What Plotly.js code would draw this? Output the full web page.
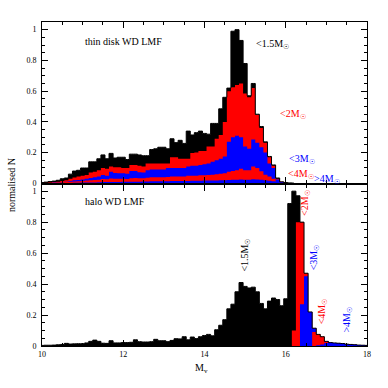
<!DOCTYPE html>
<html>
<head>
<meta charset="utf-8">
<script src="https://cdn.plot.ly/plotly-3.0.1.min.js"></script>
<style>
  html,body{margin:0;padding:0;background:#fff;}
  #chart{width:388px;height:388px;}
</style>
</head>
<body>
<div id="chart"></div>
<script>
// bin centres step by 0.1 mag; each series lists its values from its first bin
const binWidth = 0.1;

// thin disk, first bin at Mv = 10.0
const diskStart = 10.0;
const diskTotal = [
  0.005,0.008,0.012,0.015,0.02,0.03,0.035,0.06,0.08,0.085,
  0.1,0.1,0.14,0.14,0.16,0.185,0.16,0.195,0.165,0.17,
  0.17,0.155,0.19,0.19,0.185,0.18,0.18,0.22,0.225,0.235,
  0.235,0.225,0.29,0.265,0.28,0.26,0.34,0.315,0.33,0.34,
  0.325,0.32,0.39,0.39,0.485,0.56,0.62,0.99,1.0,0.93,
  0.78,0.57,0.65,0.45,0.37,0.27,0.175,0.12,0.035,0.01,
  0.005,0.003,0.002];
const diskLt2 = [
  0.002,0.004,0.006,0.008,0.01,0.015,0.02,0.03,0.038,0.045,
  0.05,0.055,0.07,0.075,0.085,0.1,0.095,0.11,0.105,0.105,
  0.1,0.1,0.12,0.12,0.115,0.11,0.13,0.13,0.13,0.13,
  0.13,0.13,0.17,0.17,0.16,0.16,0.16,0.197,0.2,0.21,
  0.21,0.24,0.24,0.29,0.315,0.40,0.60,0.625,0.64,0.65,
  0.585,0.56,0.62,0.445,0.36,0.265,0.17,0.115,0.03,0.01,
  0.004,0.002,0.001];
const diskLt3 = [
  0.001,0.002,0.003,0.005,0.006,0.008,0.01,0.015,0.02,0.022,
  0.025,0.03,0.035,0.04,0.045,0.055,0.05,0.075,0.068,0.065,
  0.065,0.063,0.08,0.08,0.072,0.07,0.085,0.09,0.09,0.09,
  0.09,0.1,0.1,0.1,0.1,0.1,0.11,0.115,0.115,0.12,
  0.125,0.13,0.14,0.15,0.16,0.175,0.27,0.3,0.31,0.3,
  0.24,0.225,0.285,0.265,0.235,0.2,0.13,0.1,0.025,0.008,
  0.002,0.001,0];
const diskLt4 = [
  0.001,0.002,0.003,0.004,0.005,0.007,0.008,0.01,0.012,0.014,
  0.016,0.018,0.02,0.022,0.024,0.028,0.026,0.032,0.03,0.03,
  0.03,0.028,0.034,0.035,0.033,0.033,0.036,0.04,0.04,0.04,
  0.04,0.042,0.045,0.044,0.045,0.044,0.05,0.05,0.05,0.052,
  0.052,0.054,0.056,0.06,0.062,0.065,0.075,0.08,0.085,0.095,
  0.085,0.085,0.11,0.1,0.078,0.056,0.045,0.03,0.008,0.004,
  0.001,0,0];
const diskGt4 = [
  0.0005,0.001,0.001,0.0015,0.002,0.002,0.003,0.003,0.004,0.004,
  0.005,0.005,0.006,0.006,0.007,0.008,0.008,0.009,0.009,0.009,
  0.01,0.01,0.011,0.011,0.011,0.012,0.012,0.013,0.013,0.013,
  0.014,0.014,0.015,0.015,0.015,0.016,0.016,0.017,0.017,0.017,
  0.018,0.018,0.019,0.019,0.02,0.02,0.022,0.023,0.024,0.025,
  0.024,0.024,0.026,0.025,0.023,0.02,0.017,0.014,0.008,0.006,
  0.002,0.001,0];

// halo
const haloStart = 10.0;
const haloTotal = [
  0.004,0.005,0.005,0.006,0.008,0.01,0.017,0.013,0.014,0.015,
  0.015,0.02,0.03,0.038,0.03,0.018,0.017,0.034,0.02,0.02,
  0.022,0.022,0.024,0.04,0.028,0.026,0.026,0.028,0.043,0.034,
  0.034,0.028,0.036,0.047,0.046,0.06,0.04,0.058,0.048,0.06,
  0.068,0.075,0.066,0.105,0.134,0.17,0.24,0.27,0.35,0.41,
  0.385,0.375,0.38,0.35,0.275,0.24,0.29,0.31,0.30,0.26,
  0.305,0.92,1.0,0.97,0.80,0.47,0.22,0.115,0.075,0.06,
  0.03,0.022,0.02,0.018,0.016,0.012,0.01,0.008,0.006,0.005,
  0.004];
const haloLt2Start = 16.1;
const haloLt2 = [0,0.10,0.80,0.80,0.47,0.22,0.115,0.075,0.06,
  0.03,0.022,0.02,0.018,0.016,0.012,0.01,0.008,0.006,0.005,0.004];
const haloLt3Start = 16.3;
const haloLt3 = [0,0.27,0.45,0.22,0.115,0.04,0.03,
  0.03,0.022,0.02,0.018,0.016,0.012,0.01,0.008,0.006,0.005,0.004];
const haloLt4Start = 16.6;
const haloLt4 = [0,0.09,0.075,0.06,0.028,0.01,0];
const haloGt4Start = 16.7;
const haloGt4 = [0,0.005,0.01,0.02,0.022,0.02,0.018,0.016,0.012,0.01,0.008,0.006,0.005,0.004];

const RED = '#ff0000', BLUE = '#0000ff', BLACK = '#000000';

const centres = (start, n) => Array.from({length:n}, (_, i) => +(start + i*binWidth).toFixed(2));

function layer(start, vals, color, xa, ya){
  return {type:'scatter', mode:'lines', x:centres(start, vals.length), y:vals,
    fill:'tozeroy', fillcolor:color, line:{shape:'hvh', width:0, color:color},
    xaxis:xa, yaxis:ya, hoverinfo:'skip'};
}
function outline(start, vals, xa, ya){
  return {type:'scatter', mode:'lines', x:centres(start, vals.length), y:vals,
    line:{shape:'hvh', width:1, color:BLACK}, xaxis:xa, yaxis:ya, hoverinfo:'skip'};
}

const traces = [
  layer(diskStart, diskTotal, BLACK, 'x', 'y'),
  layer(diskStart, diskLt2, RED, 'x', 'y'),
  layer(diskStart, diskLt3, BLUE, 'x', 'y'),
  layer(diskStart, diskLt4, RED, 'x', 'y'),
  layer(diskStart, diskGt4, BLUE, 'x', 'y'),
  outline(diskStart, diskTotal, 'x', 'y'),
  layer(haloStart, haloTotal, BLACK, 'x2', 'y2'),
  layer(haloLt2Start, haloLt2, RED, 'x2', 'y2'),
  layer(haloLt3Start, haloLt3, BLUE, 'x2', 'y2'),
  layer(haloLt4Start, haloLt4, RED, 'x2', 'y2'),
  layer(haloGt4Start, haloGt4, BLUE, 'x2', 'y2'),
  outline(haloStart, haloTotal, 'x2', 'y2')
];

const ax = {
  showline:true, linecolor:BLACK, linewidth:1, mirror:'ticks',
  ticks:'inside', ticklen:6, tickcolor:BLACK, tickwidth:1,
  showgrid:false, zeroline:false, ticklabelstandoff:3,
  tickfont:{family:'Liberation Serif', size:8, color:BLACK}
};
const minorX = {ticks:'inside', ticklen:3, tickcolor:BLACK, dtick:0.5, showgrid:false};
const minorY = {ticks:'inside', ticklen:3, tickcolor:BLACK, dtick:0.05, showgrid:false};

const sun = 'M<sub>\u2609</sub>';
const txt = (text, x, y, color, xr, yr, extra) => Object.assign({
  text:text, x:x, y:y, xref:xr, yref:yr, showarrow:false,
  xanchor:'left', yanchor:'middle',
  font:{family:'Liberation Serif', size:10, color:color}
}, extra || {});
const rot = {textangle:-90, xanchor:'center', yanchor:'middle'};

const annotations = [
  txt('thin disk WD LMF', 11.0, 0.924, BLACK, 'x', 'y'),
  txt('&lt;1.5' + sun, 15.22, 0.905, BLACK, 'x', 'y'),
  txt('&lt;2' + sun, 15.81, 0.445, RED, 'x', 'y'),
  txt('&lt;3' + sun, 16.03, 0.153, BLUE, 'x', 'y'),
  txt('&lt;4' + sun, 16.0, 0.056, RED, 'x', 'y'),
  txt('&gt;4' + sun, 16.64, 0.024, BLUE, 'x', 'y'),
  txt('halo WD LMF', 11.0, 0.933, BLACK, 'x2', 'y2'),
  txt('&lt;1.5' + sun, 15.02, 0.59, BLACK, 'x2', 'y2', rot),
  txt('&lt;2' + sun, 16.50, 0.924, RED, 'x2', 'y2', rot),
  txt('&lt;3' + sun, 16.70, 0.574, BLUE, 'x2', 'y2', rot),
  txt('&lt;4' + sun, 16.91, 0.222, RED, 'x2', 'y2', rot),
  txt('&gt;4' + sun, 17.53, 0.17, BLUE, 'x2', 'y2', rot),
  txt('normalised N', -0.092, 0.497, BLACK, 'paper', 'paper', rot),
  txt('M<sub>v</sub>', 0.49, -0.068, BLACK, 'paper', 'paper', {xanchor:'center'})
];

const layout = {
  width:388, height:388,
  margin:{l:42, r:21, t:22, b:42},
  paper_bgcolor:'#fff', plot_bgcolor:'#fff',
  showlegend:false,
  font:{family:'Liberation Serif', size:9, color:BLACK},
  xaxis:Object.assign({}, ax, {domain:[0,1], anchor:'y', range:[10,18], tick0:10, dtick:2,
    showticklabels:false, minor:minorX}),
  yaxis:Object.assign({}, ax, {domain:[0.502,1], anchor:'x', range:[0,1.05], tick0:0, dtick:0.2,
    minor:minorY}),
  xaxis2:Object.assign({}, ax, {domain:[0,1], anchor:'y2', range:[10,18], tick0:10, dtick:2,
    ticklabelstandoff:0, minor:minorX}),
  yaxis2:Object.assign({}, ax, {domain:[0,0.497], anchor:'x2', range:[0,1.04], tick0:0, dtick:0.2,
    minor:minorY}),
  annotations:annotations
};

Plotly.newPlot('chart', traces, layout, {staticPlot:true, displayModeBar:false});
</script>
</body>
</html>
